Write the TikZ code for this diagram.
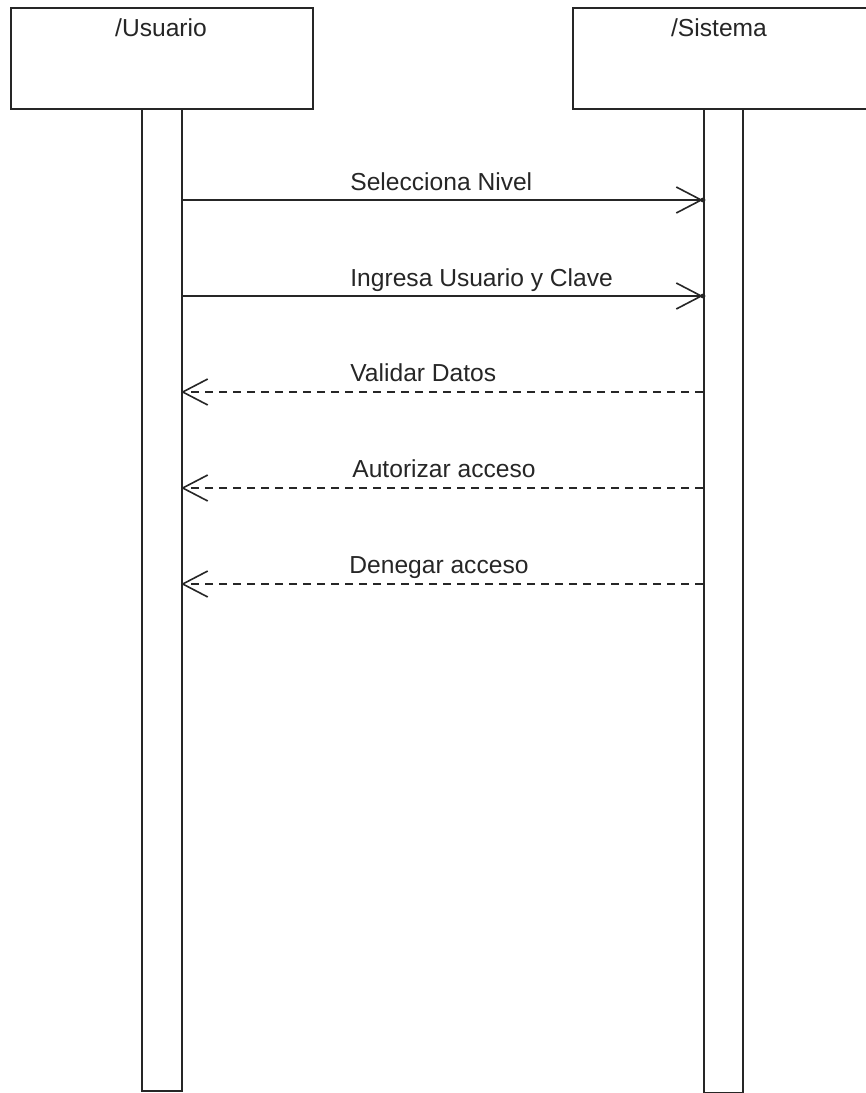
\documentclass[tikz,border=0pt]{standalone}
\usepackage{fontspec}
\setmainfont{Liberation Sans}
\usetikzlibrary{arrows.meta}
\begin{document}
\begin{tikzpicture}[x=0.5pt,y=-0.5pt,
  obj/.style={draw=black!85,line width=1pt,fill=white,inner sep=0pt,anchor=north west},
  bar/.style={draw=black!85,line width=1pt,fill=white,inner sep=0pt,anchor=north west},
  lbl/.style={font=\fontsize{12.3}{14}\selectfont,text=black!85,inner sep=0pt,anchor=base west},
  msg/.style={draw=black!85,line width=0.8pt,-{Straight Barb[length=12.5pt,width=13pt,line width=0.8pt]}},
  ret/.style={msg,dash pattern=on 4pt off 3pt}]
\useasboundingbox (0,0) rectangle (866,1093);
% lifeline heads
\node[obj,minimum width=151pt,minimum height=50.5pt] (ubox) at (10,7) {};
\node[obj,minimum width=148pt,minimum height=50.5pt] (sbox) at (572,7) {};
\node[font=\fontsize{12.3}{14}\selectfont,text=black!85,anchor=base] (ut) at (161,36) {/Usuario};
\node[font=\fontsize{12.3}{14}\selectfont,text=black!85,anchor=base] (st) at (719,36) {/Sistema};
% activation bars
\node[bar,minimum width=20pt,minimum height=491pt] (ubar) at (141,108) {};
\node[bar,minimum width=19.5pt,minimum height=492pt] (sbar) at (703,108) {};
% message end points
\foreach \i/\y in {1/200,2/296,3/392,4/488,5/584}{
  \coordinate (u\i) at (181,\y);
  \coordinate (s\i) at (703,\y);
}
\draw[msg] (u1) -- (s1);
\draw[msg] (u2) -- (s2);
\draw[ret] (s3) -- (u3);
\draw[ret] (s4) -- (u4);
\draw[ret] (s5) -- (u5);
\fill[black!85] (s1) circle (1.2pt);
\fill[black!85] (s2) circle (1.2pt);
% labels
\node[lbl] (l1) at (350,190) {Selecciona Nivel};
\node[lbl] (l2) at (350,286) {Ingresa Usuario y Clave};
\node[lbl] (l3) at (350,381) {Validar Datos};
\node[lbl] (l4) at (352,477) {Autorizar acceso};
\node[lbl] (l5) at (349,573) {Denegar acceso};
\end{tikzpicture}
\end{document}
